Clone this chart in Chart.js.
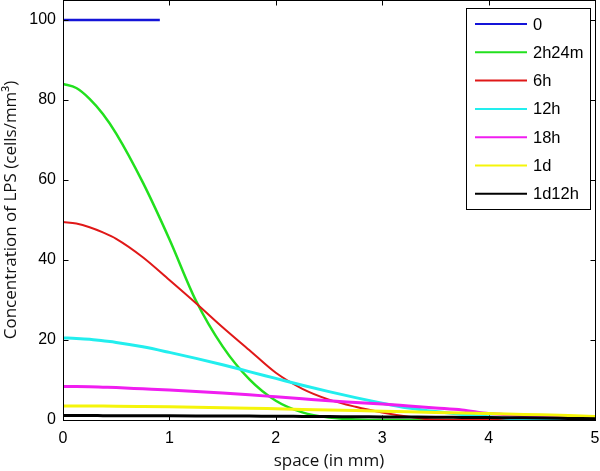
<!DOCTYPE html>
<html>
<head>
<meta charset="utf-8">
<script src="https://cdn.jsdelivr.net/npm/chart.js@4/dist/chart.umd.min.js"></script>
<style>
html,body{margin:0;padding:0;background:#fff;}
#wrap{width:600px;height:471px;position:relative;}
</style>
</head>
<body>
<div id="wrap"><canvas id="c" width="600" height="471"></canvas></div>
<script>
// ---- data ----
const space = [0,0.125,0.25,0.375,0.5,0.75,1,1.25,1.5,1.75,2,2.25,2.5,2.75,3,3.25,3.5,3.75,4,4.25,4.5,4.75,5];
const initSpace = [0, 0.91];
const initValues = [100, 100];
const seriesLabels = ['0','2h24m','6h','12h','18h','1d','1d12h'];
const seriesColors = ['#1414d8','#22e01e','#e01818','#22eeee','#f01ef0','#f5f50a','#000000'];
const seriesWidths = [2.5, 2.5, 2, 3, 3, 3, 3];
const v2h24m = [84,83,80.3,76.5,71.6,59.4,45.2,29.8,18.4,10.2,4.8,1.9,0.6,0.15,0,0,0,0,0,0,0,0,0];
const v6h    = [49.5,49.1,48.2,46.9,45.3,40.7,35,29.2,23.2,17.5,11.8,7.8,5.1,3.3,1.9,0.8,0.05,0,0,0,0,0,0];
const v12h   = [20.5,20.4,20.2,19.8,19.4,18.3,16.9,15.4,13.8,12.1,10.4,8.7,7.1,5.6,4.2,3.0,2.1,1.4,0.8,0.3,0,0,0];
const v18h   = [8.4,8.37,8.3,8.2,8.1,7.8,7.5,7.15,6.75,6.3,5.8,5.3,4.8,4.4,4.0,3.5,3.0,2.5,1.6,1.2,0.8,0.5,0.3];
const v1d    = [3.5,3.5,3.48,3.47,3.45,3.38,3.3,3.2,3.08,2.95,2.8,2.65,2.5,2.35,2.2,2.05,1.9,1.75,1.6,1.45,1.3,1.1,0.9];
const v1d12h = [1.1,1.1,1.1,1.09,1.08,1.06,1.04,1.02,1.0,0.97,0.94,0.9,0.86,0.82,0.78,0.74,0.7,0.65,0.6,0.55,0.5,0.4,0.3];
const xTicks = [0,1,2,3,4,5];
const yTicks = [0,20,40,60,80,100];
const xTitle = 'space (in mm)';
const yTitle = 'Concentration of LPS (cells/mm\u00B3)';

const seriesValues = [initValues, v2h24m, v6h, v12h, v18h, v1d, v1d12h];
const datasets = seriesValues.map((vals, i) => {
  const xs = i === 0 ? initSpace : space;
  return {
    label: seriesLabels[i],
    data: vals.map((v, k) => ({x: xs[k], y: v})),
    borderColor: seriesColors[i],
    backgroundColor: seriesColors[i],
    borderWidth: seriesWidths[i],
    pointRadius: 0,
    fill: false,
    cubicInterpolationMode: 'monotone',
    order: seriesValues.length - 1 - i
  };
});

const tickFont = {family: '"Liberation Sans", Arial, sans-serif', size: 16};
const titleFont = {family: '"Open Sans", "DejaVu Sans", sans-serif', size: 17};

function noPad(s) {
  s.paddingLeft = 0; s.paddingRight = 0; s.paddingTop = 0; s.paddingBottom = 0;
}

const framePlugin = {
  id: 'frame',
  afterDraw(chart) {
    const {ctx, chartArea: a, scales: {x, y}} = chart;
    ctx.save();
    ctx.strokeStyle = '#000';
    ctx.lineWidth = 1;
    const L = Math.round(a.left) + 0.5, R = Math.round(a.right) + 0.5;
    const T = Math.round(a.top) + 0.5, B = Math.round(a.bottom) + 0.5;
    ctx.strokeRect(L, T, R - L, B - T);
    const tl = 5;
    ctx.beginPath();
    xTicks.forEach(v => {
      const px = Math.round(x.getPixelForValue(v)) + 0.5;
      ctx.moveTo(px, B); ctx.lineTo(px, B - tl);
      ctx.moveTo(px, T); ctx.lineTo(px, T + tl);
    });
    yTicks.forEach(v => {
      const py = Math.round(y.getPixelForValue(v)) + 0.5;
      ctx.moveTo(L, py); ctx.lineTo(L + tl, py);
      ctx.moveTo(R, py); ctx.lineTo(R - tl, py);
    });
    ctx.stroke();

    // legend box
    const lx = 466, ly = 8, lw = 124, lh = 201;
    ctx.fillStyle = '#fff';
    ctx.fillRect(lx, ly, lw, lh);
    ctx.strokeRect(lx + 0.5, ly + 0.5, lw, lh);
    ctx.font = '16.5px "Liberation Sans", Arial, sans-serif';
    ctx.textBaseline = 'middle';
    ctx.textAlign = 'left';
    chart.data.datasets.forEach((ds, i) => {
      const ry = 24 + i * 28.3;
      ctx.strokeStyle = ds.borderColor;
      ctx.lineWidth = 2;
      ctx.beginPath();
      ctx.moveTo(475, ry); ctx.lineTo(527, ry);
      ctx.stroke();
      ctx.fillStyle = '#000';
      ctx.fillText(ds.label, 533, ry + 1);
    });
    ctx.restore();
  }
};

new Chart(document.getElementById('c'), {
  type: 'line',
  data: {datasets},
  options: {
    responsive: false,
    animation: false,
    events: [],
    layout: {padding: {left: 0, right: 5, top: 0, bottom: 0}},
    plugins: {legend: {display: false}, tooltip: {enabled: false}},
    scales: {
      x: {
        type: 'linear', min: 0, max: 5,
        grid: {display: false, drawTicks: false},
        border: {display: false},
        afterBuildTicks: s => { s.ticks = xTicks.map(v => ({value: v})); },
        afterFit: s => { s.height = 51; noPad(s); },
        ticks: {font: tickFont, color: '#000', padding: 9, maxRotation: 0, autoSkip: false},
        title: {display: true, text: xTitle, font: titleFont, color: '#111', padding: {top: 0, bottom: 0}}
      },
      y: {
        type: 'linear', min: 0, max: 105,
        grid: {display: false, drawTicks: false},
        border: {display: false},
        afterBuildTicks: s => { s.ticks = yTicks.map(v => ({value: v})); },
        afterFit: s => { s.width = 63; noPad(s); },
        ticks: {font: tickFont, color: '#000', padding: 7, autoSkip: false},
        title: {display: true, text: yTitle, font: titleFont, color: '#111', padding: {top: 1, bottom: 0}}
      }
    }
  },
  plugins: [framePlugin]
});
</script>
</body>
</html>
